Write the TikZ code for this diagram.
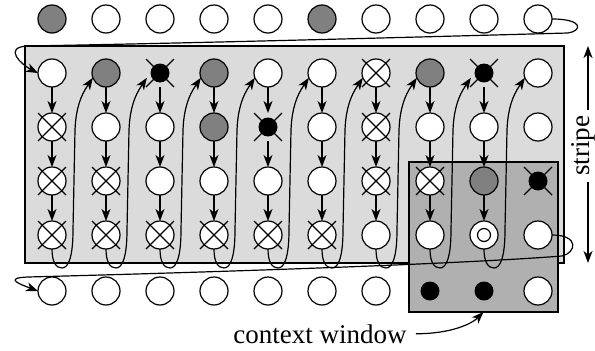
\documentclass[tikz,border=0pt]{standalone}
\usepackage{fontspec}
\setmainfont{Liberation Serif}
\usetikzlibrary{arrows.meta,calc}
\definecolor{stripefill}{gray}{0.86}
\definecolor{winfill}{gray}{0.69}
\definecolor{midgray}{gray}{0.5}
\begin{document}
\begin{tikzpicture}[x=1pt,y=-1pt,
  lw/.style={line width=1.2pt},
  arr/.style={lw,-{Stealth[length=12pt,width=9pt,inset=3.5pt]}},
  base/.style={circle,minimum size=28pt,inner sep=0pt,outer sep=0pt},
  kw/.style={base,draw,lw,fill=white},
  kg/.style={base,draw,lw,fill=midgray},
  kx/.style={base,draw,lw,fill=white},
  kb/.style={base,path picture={\fill[black] (path picture bounding box.center) circle (9.5pt);}},
  kd/.style={base,path picture={\fill[black] (path picture bounding box.center) circle (9.5pt);}},
  ko/.style={base,draw,lw,fill=white,path picture={\draw[lw] (path picture bounding box.center) circle (6.5pt);}},
  lab/.style={font=\fontsize{27pt}{32pt}\selectfont,inner sep=0pt},
  xline/.style={lw}
]
\useasboundingbox (0,0) rectangle (595,351);
% stripe and context window
\path[draw,lw,fill=stripefill] (25,46) rectangle (564,263);
\path[draw,lw,fill=winfill] (409,162) rectangle (558,312);
\coordinate (winS) at (483.5,312);
% grid nodes
\foreach \yy/\row [count=\r from 0] in {
  19/{g,w,w,w,w,g,w,w,w,w},
  73/{w,g,b,g,w,w,x,g,b,w},
  127/{x,w,w,g,b,w,x,w,w,w},
  181/{x,x,w,w,w,w,x,x,g,b},
  235/{x,x,x,x,x,x,w,w,o,w},
  291/{w,w,w,w,w,w,w,d,d,w}}
{
  \foreach \t [count=\c from 0] in \row
    \node[k\t] (n-\r-\c) at ({52+54*\c},\yy) {};
}
% crosses
\foreach \n in {1-6,2-0,2-6,3-0,3-1,3-6,3-7,4-0,4-1,4-2,4-3,4-4,4-5,1-2,1-8,2-4,3-9}
  \draw[xline] (n-\n.center) +(-14,-14) -- +(14,14) +(-14,14) -- +(14,-14);
% vertical arrows
\foreach \c in {0,...,8}
  \foreach \ra/\rb in {1/2,2/3,3/4}
    \draw[arr] (n-\ra-\c.south) -- (n-\rb-\c.north);
% column loops
\foreach \c [evaluate=\c as \nx using int(\c+1)] in {0,...,8}
  \draw[arr] (n-4-\c.south) .. controls +(0,13) and +(-6,0) .. ++(10,19)
     .. controls +(7,0) and +(0,25) .. ++(11,-38) -- ++(2,-100)
     .. controls +(1,-28) and +(-8,12) .. (n-1-\nx.200);
% top flow line
\draw[arr] (n-0-9.east) .. controls +(32,0) and +(14,-2) .. (568,33)
   .. controls (420,37) and (200,43) .. (28,46)
   .. controls +(-26,1) and +(-16,-8) .. (n-1-0.west);
% bottom flow line
\draw[arr] (n-4-9.east) .. controls +(28,0) and +(14,-3) .. (562,256)
   .. controls (460,264) and (220,272) .. (28,277)
   .. controls +(-26,1) and +(-16,-6) .. (n-5-0.west);
% stripe label
\node[lab,rotate=90,anchor=base] (stripe) at (589.5,146) {stripe};
\coordinate (su0) at (588,110);
\coordinate (su1) at (588,46);
\coordinate (sd0) at (588,182);
\coordinate (sd1) at (588,263);
\draw[arr] (su0) -- (su1);
\draw[arr] (sd0) -- (sd1);
% context window label
\node[lab,anchor=base] (cw) at (320,343) {context window};
\draw[arr] ([xshift=9pt]cw.east) .. controls +(35,0) and +(-12,12) .. (winS);
\end{tikzpicture}
\end{document}
